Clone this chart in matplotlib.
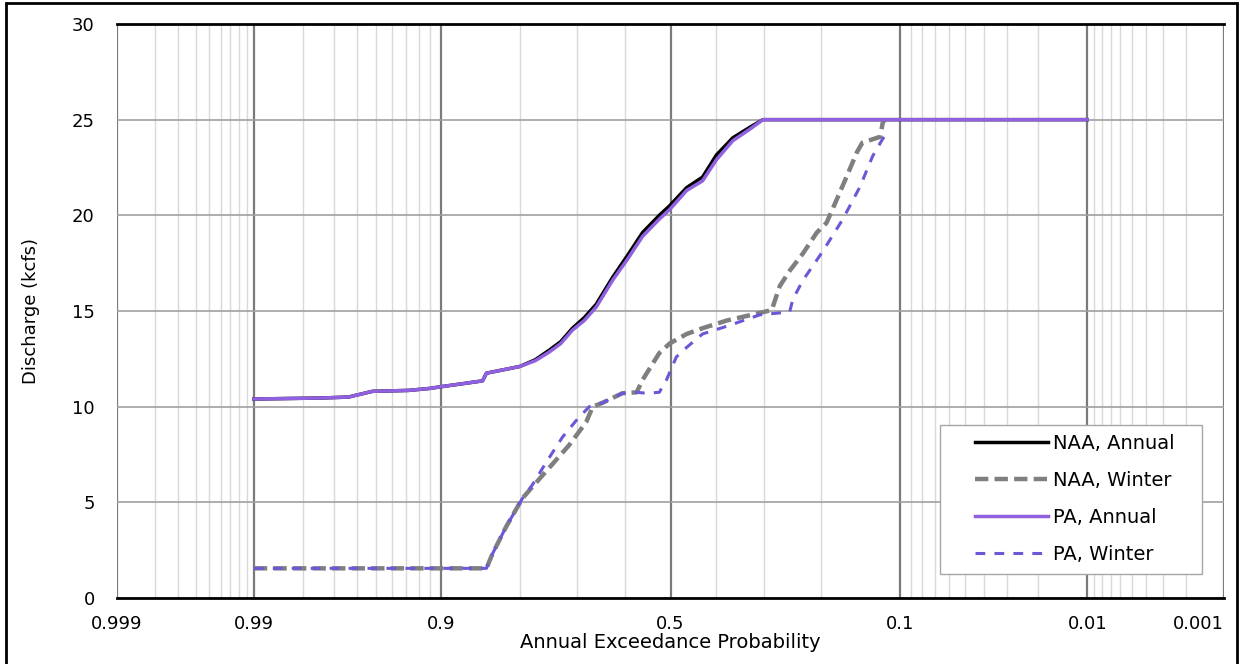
import numpy as np
import matplotlib
matplotlib.use('Agg')
import matplotlib.pyplot as plt
from matplotlib.lines import Line2D
from matplotlib.patches import Rectangle
from statistics import NormalDist

# annual exceedance probability vs discharge (kcfs)
aep_naa_annual = [0.99, 0.975, 0.964, 0.952, 0.928, 0.911, 0.899, 0.861, 0.853, 0.848, 0.80, 0.775,
                  0.751, 0.730, 0.708, 0.685, 0.661, 0.627, 0.595, 0.562, 0.525, 0.502, 0.464, 0.429,
                  0.399, 0.364, 0.329, 0.303, 0.01]
q_naa_annual = [10.4, 10.45, 10.5, 10.8, 10.85, 10.95, 11.05, 11.3, 11.35, 11.75, 12.1, 12.45,
                12.95, 13.4, 14.1, 14.65, 15.35, 16.75, 17.9, 19.1, 20.0, 20.5, 21.45, 22.0,
                23.15, 24.05, 24.6, 25.0, 25.0]

aep_pa_annual = aep_naa_annual
q_pa_annual = [10.4, 10.45, 10.5, 10.8, 10.85, 10.95, 11.05, 11.3, 11.35, 11.75, 12.1, 12.4,
               12.85, 13.3, 14.0, 14.5, 15.2, 16.6, 17.7, 18.9, 19.8, 20.3, 21.3, 21.8,
               22.9, 23.9, 24.5, 25.0, 25.0]

aep_naa_winter = [0.99, 0.848, 0.840, 0.821, 0.796, 0.780, 0.745, 0.714, 0.681, 0.668, 0.648, 0.606,
                  0.575, 0.562, 0.525, 0.502, 0.464, 0.429, 0.377, 0.309, 0.286, 0.271, 0.253, 0.230,
                  0.207, 0.192, 0.177, 0.163, 0.149, 0.142, 0.121, 0.118, 0.1155]
q_naa_winter = [1.55, 1.55, 2.3, 3.7, 5.2, 5.8, 7.0, 8.0, 9.2, 10.0, 10.2, 10.7,
                10.75, 11.4, 12.8, 13.3, 13.8, 14.1, 14.5, 14.9, 15.05, 16.3, 17.1, 18.0,
                19.1, 19.6, 20.8, 22.0, 23.3, 23.8, 24.1, 24.85, 25.0]

aep_pa_winter = [0.99, 0.848, 0.840, 0.821, 0.796, 0.780, 0.756, 0.727, 0.700, 0.675, 0.648, 0.606,
                 0.575, 0.553, 0.525, 0.509, 0.487, 0.464, 0.429, 0.377, 0.309, 0.253, 0.2475, 0.230,
                 0.198, 0.168, 0.145, 0.1295, 0.118, 0.1125]
q_pa_winter = [1.55, 1.55, 2.3, 3.7, 5.2, 5.9, 7.1, 8.4, 9.3, 10.0, 10.2, 10.7,
               10.75, 10.7, 10.75, 11.4, 12.6, 13.1, 13.8, 14.2, 14.8, 14.95, 15.6, 16.6,
               18.1, 19.8, 21.5, 23.1, 24.0, 24.4]

major_aep = [0.999, 0.99, 0.9, 0.5, 0.1, 0.01, 0.001]
major_labels = ['0.999', '0.99', '0.9', '0.5', '0.1', '0.01', '0.001']
minor_aep = ([0.998, 0.997, 0.996, 0.995, 0.994, 0.993, 0.992, 0.991]
             + [0.98, 0.97, 0.96, 0.95, 0.94, 0.93, 0.92, 0.91]
             + [0.8, 0.7, 0.6, 0.4, 0.3, 0.2]
             + [0.09, 0.08, 0.07, 0.06, 0.05, 0.04, 0.03, 0.02]
             + [0.009, 0.008, 0.007, 0.006, 0.005, 0.004, 0.003, 0.002])

_nd = NormalDist()
_ppf = np.vectorize(_nd.inv_cdf, otypes=[float])
_cdf = np.vectorize(_nd.cdf, otypes=[float])


def to_z(p):
    p = np.clip(np.asarray(p, dtype=float), 1e-9, 1 - 1e-9)
    return _ppf(p)


def from_z(z):
    return _cdf(np.asarray(z, dtype=float))


plt.rcParams['font.family'] = ['DejaVu Sans']
fig = plt.figure(figsize=(12.49, 6.64), dpi=100)
ax = fig.add_axes([0.0937, 0.0994, 0.8863, 0.8645])

ax.set_xscale('function', functions=(to_z, from_z))
ax.set_xlim(0.999, 0.001)
ax.set_ylim(0, 30)

ax.set_xticks(major_aep, major_labels)
ax.set_xticks(minor_aep, minor=True)
ax.set_yticks(range(0, 31, 5))
# last label sits inside the frame, like the original
ax.get_xticklabels()[-1].set_horizontalalignment('right')

ax.grid(True, which='minor', axis='x', color='#d9d9d9', linewidth=1.0, zorder=0)
ax.grid(True, which='major', axis='x', color='#7a7a7a', linewidth=1.6, zorder=0)
ax.grid(True, which='major', axis='y', color='#a0a0a0', linewidth=1.2, zorder=0)
ax.set_axisbelow(True)

ax.tick_params(axis='both', which='both', length=0)
ax.tick_params(axis='x', pad=12, labelsize=13)
ax.tick_params(axis='y', pad=16, labelsize=13)

for side in ['left', 'right']:
    ax.spines[side].set_visible(False)
for side in ['top', 'bottom']:
    ax.spines[side].set_color('black')
    ax.spines[side].set_linewidth(2.0)

naa_ann_style = dict(color='black', linewidth=2.5)
naa_win_style = dict(color='#7f7f7f', linewidth=3.2, dashes=(3.0, 1.4))
pa_ann_style = dict(color='#9160e0', linewidth=2.5)
pa_win_style = dict(color='#6a58d6', linewidth=2.2, dashes=(3.2, 3.0))

ax.plot(aep_naa_annual, q_naa_annual, zorder=3, **naa_ann_style)
ax.plot(aep_naa_winter, q_naa_winter, zorder=3, **naa_win_style)
ax.plot(aep_pa_annual, q_pa_annual, zorder=4, **pa_ann_style)
ax.plot(aep_pa_winter, q_pa_winter, zorder=5, **pa_win_style)

ax.set_xlabel('Annual Exceedance Probability', fontsize=14, labelpad=0)
ax.set_ylabel('Discharge (kcfs)', fontsize=13, labelpad=23)

# legend box drawn separately so its padding matches the original
ax.add_patch(Rectangle((0.7435, 0.0418), 0.2366, 0.2596, transform=ax.transAxes,
                       facecolor='white', edgecolor='#a6a6a6', linewidth=1.0, zorder=6))
handles = [Line2D([], [], **naa_ann_style), Line2D([], [], **naa_win_style),
           Line2D([], [], **pa_ann_style), Line2D([], [], **pa_win_style)]
labels = ['NAA, Annual', 'NAA, Winter', 'PA, Annual', 'PA, Winter']
leg = ax.legend(handles, labels, loc='upper left', bbox_to_anchor=(0.775, 0.286),
                fontsize=14, frameon=False, handlelength=3.76, handletextpad=0.26,
                labelspacing=0.93, borderpad=0, borderaxespad=0)
leg.set_zorder(7)

fig.patches.append(Rectangle((0.0048, -0.02), 0.9856, 1.0155, transform=fig.transFigure,
                             fill=False, edgecolor='black', linewidth=2.0))

fig.savefig('out.png', dpi=100)
